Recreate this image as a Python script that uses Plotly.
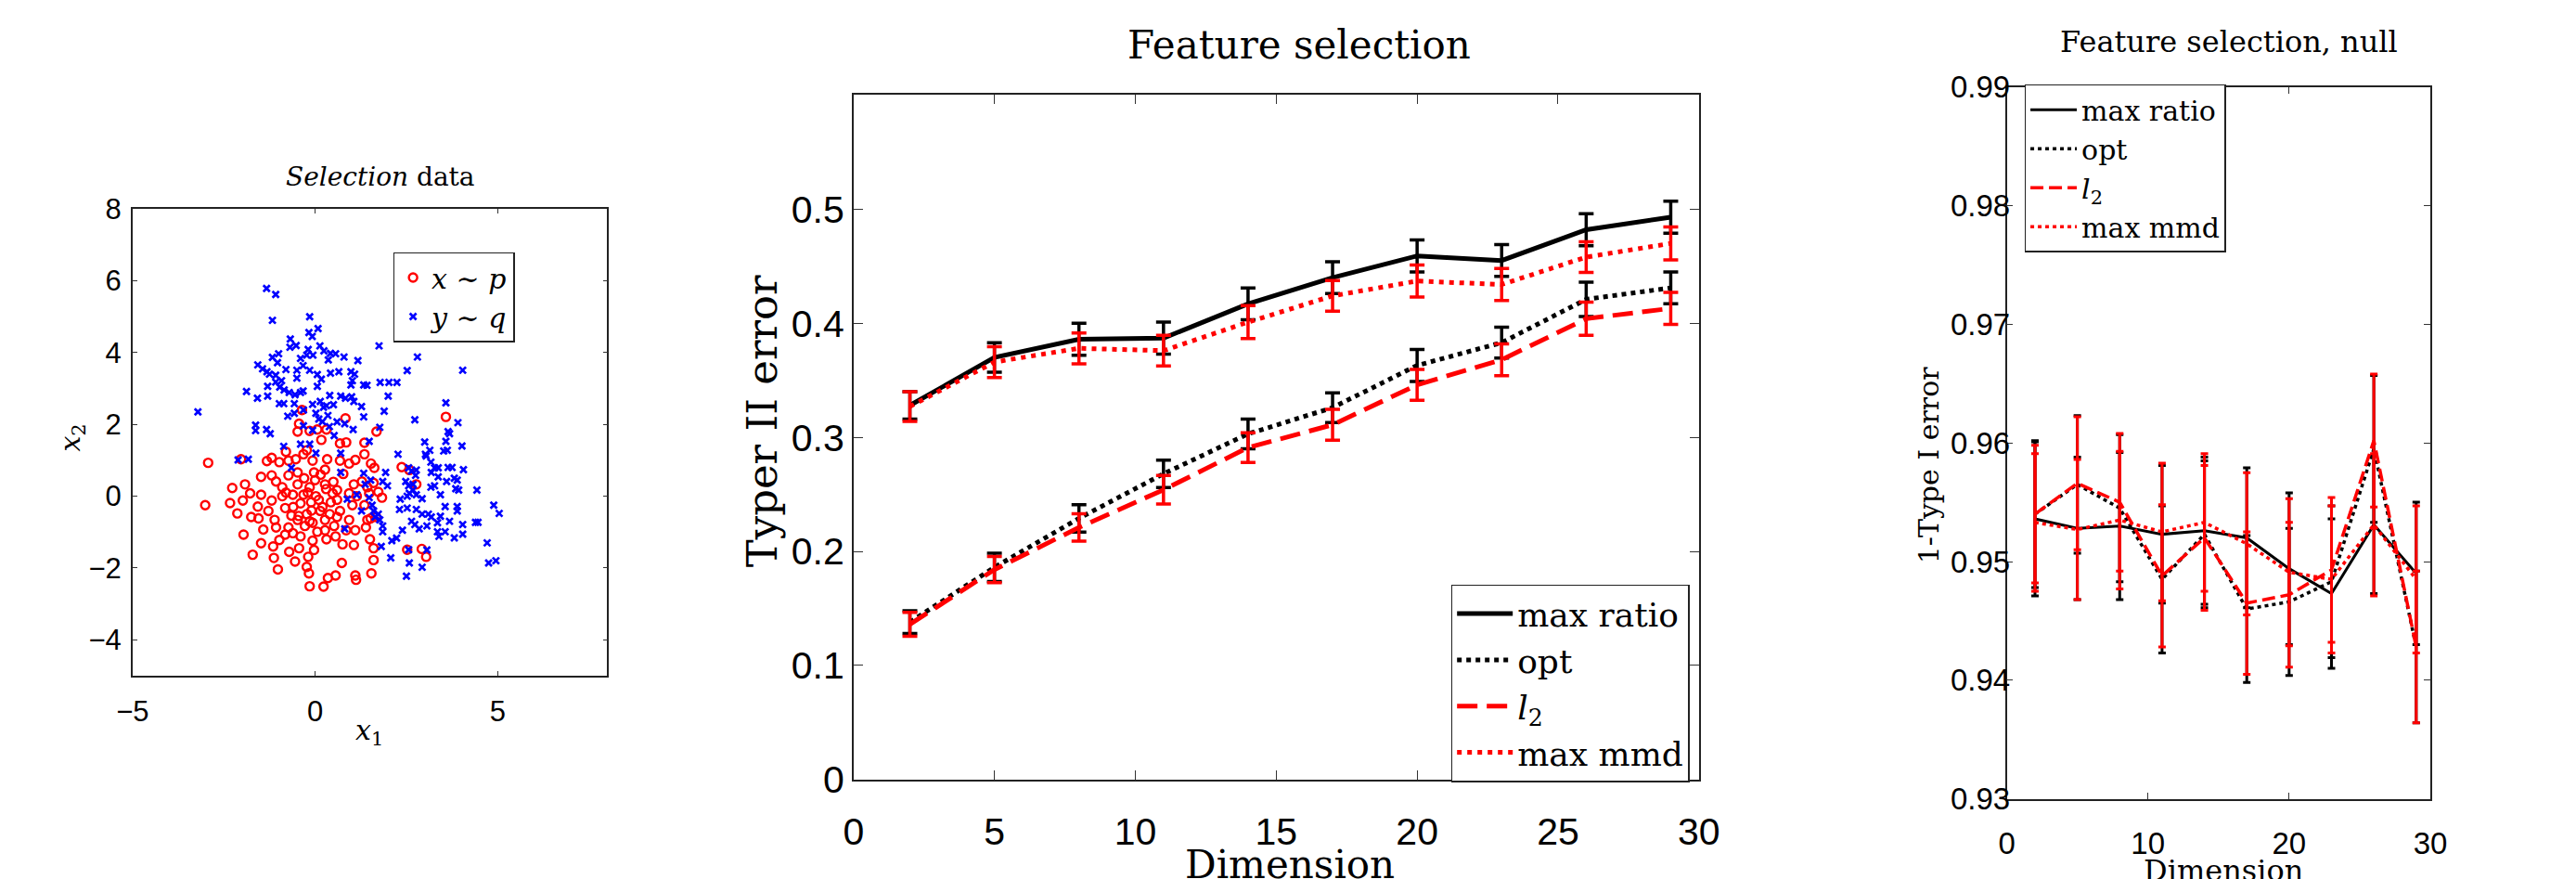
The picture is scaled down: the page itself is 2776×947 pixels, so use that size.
import plotly.graph_objects as go

W, H = 2776, 947

# ---------------- Panel 1 data: "Selection" data ----------------
p_points = [(-2.93,0.93),(-3.01,-0.25),(-2.03,1.03),(-0.36,2.40),(0.83,2.17),(3.58,2.21),(-0.44,2.02),(-0.48,1.80),
 (-0.15,1.82),(0.06,1.86),(0.31,1.86),(0.17,1.57),(1.68,1.80),(0.68,1.47),(0.85,1.50),(1.35,1.49),(-0.80,1.24),
 (1.35,1.17),(-0.32,1.17),(-0.23,1.28),(-1.32,0.98),(-1.19,1.07),(-0.98,0.95),(-0.73,0.99),(-0.53,1.03),(-0.07,0.99),
 (0.33,1.03),(0.68,0.99),(0.93,0.91),(1.10,1.01),(1.53,0.91),(1.62,0.79),(2.37,0.81),(2.58,0.73),(2.77,0.33),
 (-2.27,0.23),(-1.92,0.33),(-1.78,0.08),(-2.33,-0.19),(-1.98,-0.12),(-2.13,-0.48),(-1.48,0.54),(-1.48,0.04),
 (-1.57,-0.29),(-1.75,-0.58),(-1.55,-0.62),(-1.96,-1.07),(-1.42,-0.93),(-1.48,-1.31),(-1.71,-1.63),(-1.15,-1.40),
 (-1.13,-1.72),(-1.02,-2.04),(-0.71,-1.55),(-0.55,-1.82),(-0.19,-1.69),(-0.03,-1.50),(-0.23,-1.97),(-0.17,-2.15),
 (-0.15,-2.51),(0.23,-2.52),(0.35,-2.28),(0.56,-2.21),(0.73,-1.86),(1.10,-2.21),(1.12,-2.33),(1.54,-2.15),
 (1.60,-1.78),(1.60,-1.45),(1.50,-1.20),(1.06,-1.36),(0.75,-1.34),(0.31,-1.20),(0.56,-1.12),(0.06,-0.99),
 (-0.82,-1.07),(-0.61,-1.03),(-1.07,-0.87),(-0.48,-0.66),(-0.28,-0.83),(0.85,-0.95),(1.10,-0.95),(1.39,-0.87),
 (1.43,-0.66),(1.67,-0.58),(1.02,-0.25),(1.35,-0.25),(1.83,-0.04),(1.73,0.12),(1.43,0.25),(1.28,0.41),(1.60,0.37),
 (2.52,-1.49),(2.92,-1.47),(3.04,-1.69),(-1.19,-0.12),(-0.90,0.00),(-0.82,-0.33),(-1.28,-0.41),(-1.11,-0.66),
 (-0.65,-0.54),(-0.11,-0.17),(0.14,-0.41),(0.43,-0.17),(0.60,0.17),(0.27,0.33),(-0.15,0.25),(-0.48,0.33),
 (-0.73,0.58),(-1.07,0.41),(-0.48,0.66),(-0.03,0.66),(0.27,0.74),(0.77,0.62),(1.06,0.33),(0.93,0.08),(0.68,-0.41),
 (-0.07,-0.74),(0.27,-0.66),(-0.23,-0.50),(0.02,0.00),(-0.32,0.04),(-0.61,0.04),(-0.90,0.25),(-1.19,0.58),
 (0.48,0.08),(1.14,0.00),(1.48,0.08),(0.60,-0.58),(-0.73,-0.87),(-0.40,-1.12),(0.52,-0.83),(1.52,-0.62),
 (0.93,-0.66),(0.27,-0.95),(-0.07,-1.24),(-0.44,-1.45),(-0.98,-1.22),(-0.40,-0.20),(-0.20,0.10),(0.10,-0.10),
 (0.30,0.20),(-0.10,-0.40),(0.20,-0.30),(-0.60,-0.30),(0.00,0.45),(-0.30,0.50),(0.40,-0.50),(-0.80,0.10),
 (0.60,-0.10),(-0.15,-0.70),(0.15,0.60),(-0.45,-0.55),(0.50,0.40)]

q_points = [(-1.33,5.79),(-1.08,5.62),(-1.17,4.90),(-0.15,5.00),(-0.17,4.56),(0.08,4.67),(-0.08,4.45),(-0.68,4.38),
 (-0.69,4.15),(-0.52,4.20),(1.75,4.19),(0.13,4.19),(0.24,4.05),(0.42,3.98),(0.56,3.97),(-0.19,4.09),(-0.23,3.93),
 (-0.06,3.93),(-1.00,3.97),(-1.17,3.87),(-1.03,3.72),(-0.40,3.84),(0.79,3.88),(0.36,3.80),(1.17,3.78),(2.80,3.88),
 (-1.57,3.66),(-1.44,3.55),(-1.32,3.47),(-1.25,3.40),(-1.08,3.37),(-0.80,3.53),(-0.50,3.51),(-0.33,3.64),
 (-0.15,3.51),(0.06,3.39),(0.17,3.26),(0.42,3.43),(0.65,3.47),(0.98,3.47),(1.08,3.40),(1.02,3.22),(2.52,3.50),
 (4.04,3.51),(-0.50,3.29),(-0.92,3.22),(-1.08,3.18),(-0.97,3.04),(-0.85,2.96),(-1.30,3.06),(-1.88,2.92),
 (1.33,3.10),(1.42,3.09),(1.78,3.17),(2.02,3.17),(2.24,3.17),(0.06,3.06),(0.98,3.10),(-1.58,2.73),(-1.30,2.79),
 (-0.71,2.89),(-0.55,2.83),(-0.40,2.89),(-0.33,2.93),(0.40,2.81),(0.70,2.79),(0.83,2.73),(1.00,2.77),(1.06,2.64),
 (2.00,2.79),(-0.98,2.58),(-0.86,2.58),(-0.57,2.58),(-0.07,2.56),(0.14,2.64),(0.23,2.48),(0.31,2.52),(0.50,2.55),
 (1.27,2.50),(-3.21,2.35),(1.89,2.37),(3.58,2.60),(-0.75,2.23),(-0.57,2.31),(-0.32,2.40),(0.02,2.31),(0.10,2.15),
 (0.20,2.08),(0.35,2.25),(0.60,2.07),(0.81,2.02),(1.33,2.21),(2.73,2.13),(-1.63,1.98),(-1.63,1.83),(-1.33,1.86),
 (-1.23,1.74),(-0.32,1.96),(-0.07,1.84),(0.39,1.94),(0.52,1.69),(1.04,1.86),(1.77,1.92),(3.91,2.05),(3.64,1.80),
 (3.68,1.74),(3.58,1.53),(4.02,1.40),(3.62,1.28),(3.52,1.26),(-0.86,1.39),(-0.40,1.45),(-0.15,1.45),(0.02,1.20),
 (0.70,1.20),(1.48,1.53),(-2.11,1.01),(-1.83,1.03),(3.00,1.51),(3.02,1.17),(2.27,1.17),(3.14,1.28),(3.04,1.12),
 (2.56,0.79),(2.64,0.70),(2.77,0.73),(2.75,0.58),(3.17,0.95),(3.27,0.79),(3.37,0.79),(3.18,0.66),(3.64,0.80),
 (3.75,0.80),(4.06,0.74),(-0.65,0.79),(0.70,0.66),(1.33,0.64),(1.37,0.33),(1.52,0.45),(1.85,0.41),(1.98,0.29),
 (1.93,0.66),(2.48,0.41),(2.56,0.29),(2.68,0.33),(2.68,0.17),(2.58,0.08),(2.52,0.00),(2.77,0.04),(2.93,-0.07),
 (3.17,0.25),(3.27,0.29),(3.37,0.54),(3.43,0.04),(3.60,0.41),(3.81,0.50),(3.89,0.45),(3.85,0.21),(3.93,0.17),
 (4.43,0.17),(0.88,-0.08),(1.14,0.04),(1.48,-0.04),(1.56,-0.25),(1.60,-0.41),(1.64,-0.58),(1.73,-0.50),
 (1.77,-0.66),(1.27,-0.41),(2.33,-0.08),(2.31,-0.37),(2.52,-0.33),(2.77,-0.37),(2.93,-0.50),(3.10,-0.50),
 (3.18,-0.58),(3.43,-0.56),(3.56,-0.29),(3.89,-0.29),(3.89,-0.41),(4.89,-0.25),(5.04,-0.48),(0.81,-0.91),
 (1.85,-0.83),(1.85,-0.99),(1.81,-1.40),(2.10,-1.24),(2.23,-1.17),(2.39,-0.95),(2.64,-0.70),(2.73,-0.79),
 (2.85,-0.91),(3.06,-0.83),(3.35,-0.74),(3.35,-0.99),(3.39,-1.12),(3.56,-0.99),(3.68,-0.70),(3.81,-1.16),
 (4.04,-0.79),(4.04,-1.06),(4.39,-0.73),(4.46,-0.73),(4.71,-1.30),(4.75,-1.86),(4.95,-1.80),(2.07,-1.72),
 (2.56,-1.49),(2.58,-1.86),(2.50,-2.23),(2.93,-1.98),(3.06,-1.50)]

p_x = [p[0] for p in p_points]
p_y = [p[1] for p in p_points]
q_x = [p[0] for p in q_points]
q_y = [p[1] for p in q_points]

# ---------------- Panel 2 data: Feature selection ----------------
dims = [2, 5, 8, 11, 14, 17, 20, 23, 26, 29]
ratio2 = [0.328, 0.370, 0.386, 0.387, 0.417, 0.440, 0.459, 0.455, 0.482, 0.493]
ratio2_err = [0.012, 0.013, 0.014, 0.014, 0.014, 0.014, 0.014, 0.014, 0.014, 0.014]
opt2 = [0.138, 0.186, 0.229, 0.268, 0.303, 0.326, 0.363, 0.383, 0.421, 0.431]
opt2_err = [0.010, 0.0125, 0.012, 0.012, 0.013, 0.013, 0.014, 0.0135, 0.015, 0.014]
l2_2 = [0.136, 0.184, 0.221, 0.254, 0.291, 0.311, 0.346, 0.368, 0.404, 0.413]
l2_2_err = [0.0105, 0.0115, 0.012, 0.0125, 0.013, 0.0135, 0.0135, 0.014, 0.0145, 0.014]
mmd2 = [0.327, 0.366, 0.378, 0.376, 0.401, 0.424, 0.437, 0.434, 0.458, 0.470]
mmd2_err = [0.013, 0.0135, 0.0135, 0.0135, 0.0145, 0.0135, 0.014, 0.014, 0.0135, 0.0145]

# ---------------- Panel 3 data: Feature selection, null ----------------
ratio3 = [0.9536, 0.9528, 0.9530, 0.9523, 0.9526, 0.9520, 0.9494, 0.9473, 0.9531, 0.9490]
ratio3_err = [0.0065, 0.0060, 0.0062, 0.0058, 0.0062, 0.0059, 0.0064, 0.0063, 0.0058, 0.0060]
opt3 = [0.9540, 0.9565, 0.9545, 0.9485, 0.9523, 0.9460, 0.9466, 0.9483, 0.9595, 0.9428]
opt3_err = [0.0062, 0.0058, 0.0062, 0.0062, 0.0062, 0.0062, 0.0062, 0.0064, 0.0062, 0.0064]
l2_3 = [0.9540, 0.9566, 0.9550, 0.9488, 0.9520, 0.9465, 0.9472, 0.9493, 0.9602, 0.9428]
l2_3_err = [0.0058, 0.0056, 0.0058, 0.0060, 0.0061, 0.0060, 0.0061, 0.0061, 0.0056, 0.0064]
mmd3 = [0.9533, 0.9527, 0.9535, 0.9525, 0.9533, 0.9515, 0.9491, 0.9485, 0.9531, 0.9485]
mmd3_err = [0.0058, 0.0059, 0.0058, 0.0058, 0.0058, 0.0060, 0.0062, 0.0062, 0.0060, 0.0062]

series_names = ["max ratio", "opt", "<i>l</i><sub>2</sub>", "max mmd"]

SERIF = "DejaVu Serif"
SANS = "Liberation Sans"

fig = go.Figure()

# Panel 1
fig.add_trace(go.Scatter(x=p_x, y=p_y, mode="markers", name="<i>x</i> ∼ <i>p</i>",
                         marker=dict(symbol="circle-open", size=9, color="#ff0000", line=dict(width=2.4, color="#ff0000")),
                         xaxis="x", yaxis="y", legend="legend"))
fig.add_trace(go.Scatter(x=q_x, y=q_y, mode="markers", name="<i>y</i> ∼ <i>q</i>",
                         marker=dict(symbol="x-thin-open", size=7, color="#0000ff", line=dict(width=2.7, color="#0000ff")),
                         xaxis="x", yaxis="y", legend="legend"))


def add_series(x, y, err, name, color, dash, width, ewidth, ethick, xa, ya, lg):
    fig.add_trace(go.Scatter(x=x, y=y, mode="lines", name=name,
                             line=dict(color=color, dash=dash, width=width),
                             error_y=dict(type="data", array=err, visible=True, color=color,
                                          thickness=ethick, width=ewidth),
                             xaxis=xa, yaxis=ya, legend=lg))


# Panel 2
add_series(dims, ratio2, ratio2_err, series_names[0], "#000000", "solid", 5, 8, 3.5, "x2", "y2", "legend2")
add_series(dims, opt2, opt2_err, series_names[1], "#000000", "5px,5px", 5, 8, 3.5, "x2", "y2", "legend2")
add_series(dims, l2_2, l2_2_err, series_names[2], "#ff0000", "22px,10px", 5, 8, 3.5, "x2", "y2", "legend2")
add_series(dims, mmd2, mmd2_err, series_names[3], "#ff0000", "5px,6px", 5, 8, 3.5, "x2", "y2", "legend2")

# Panel 3
add_series(dims, ratio3, ratio3_err, series_names[0], "#000000", "solid", 3, 4, 3, "x3", "y3", "legend3")
add_series(dims, opt3, opt3_err, series_names[1], "#000000", "4px,4px", 3.5, 4, 3, "x3", "y3", "legend3")
add_series(dims, l2_3, l2_3_err, series_names[2], "#ff0000", "14px,6px", 3.5, 4, 3, "x3", "y3", "legend3")
add_series(dims, mmd3, mmd3_err, series_names[3], "#ff0000", "4px,4px", 3.5, 4, 3, "x3", "y3", "legend3")


def axis(x0, x1, rng, tickvals, fsize, ticklen, anchor, standoff, horizontal=True, fmt=None):
    if horizontal:
        dom = [x0 / W, x1 / W]
    else:
        dom = [1 - x1 / H, 1 - x0 / H]
    d = dict(domain=dom, range=rng, tickvals=tickvals, ticks="inside", ticklen=ticklen,
             tickwidth=1.2, tickcolor="#333333", showline=True, linecolor="#222222",
             linewidth=1.6, mirror="ticks", showgrid=False, zeroline=False,
             tickfont=dict(family=SANS, size=fsize, color="#000000"), anchor=anchor,
             ticklabelstandoff=standoff)
    if fmt:
        d["tickformat"] = fmt
    return d


layout = dict(
    width=W, height=H, margin=dict(l=0, r=0, t=0, b=0),
    paper_bgcolor="white", plot_bgcolor="white", showlegend=True,
    xaxis=axis(126.7, 646, [-5, 8], [-5, 0, 5], 31, 5, "y", 10),
    yaxis=axis(216.7, 742, [-5, 8], [-4, -2, 0, 2, 4, 6, 8], 31, 5, "x", 4, horizontal=False),
    xaxis2=axis(915.3, 1840, [0, 30], [0, 5, 10, 15, 20, 25, 30], 41, 10, "y2", 19),
    yaxis2=axis(88.3, 859, [0, 0.6], [0, 0.1, 0.2, 0.3, 0.4, 0.5], 41, 10, "x2", 0, horizontal=False),
    xaxis3=axis(2176.7, 2640, [0, 30], [0, 10, 20, 30], 33, 7, "y3", 18),
    yaxis3=axis(79.3, 880.7, [0.93, 0.99], [0.93, 0.94, 0.95, 0.96, 0.97, 0.98, 0.99], 33, 7, "x3", -12,
                horizontal=False, fmt=".2f"),
    legend=dict(x=411.7 / W, y=1 - 265 / H, xanchor="left", yanchor="top",
                bordercolor="#222222", borderwidth=1.5, bgcolor="white",
                font=dict(family=SERIF, size=30, color="#000000"), tracegroupgap=0,
                itemwidth=30),
    legend2=dict(x=1829.7 / W, y=1 - 862 / H, xanchor="right", yanchor="bottom",
                 bordercolor="#222222", borderwidth=1.5, bgcolor="white",
                 font=dict(family=SERIF, size=36, color="#000000"), tracegroupgap=0,
                 itemwidth=60),
    legend3=dict(x=2196 / W, y=1 - 76 / H, xanchor="left", yanchor="top",
                 bordercolor="#222222", borderwidth=1.5, bgcolor="white",
                 font=dict(family=SERIF, size=30, color="#000000"), tracegroupgap=0,
                 itemwidth=50),
)


def ann(text, xp, yp, size, angle=0, xanchor="center", yanchor="middle"):
    return dict(text=text, x=xp / W, y=1 - yp / H, xref="paper", yref="paper",
                showarrow=False, textangle=angle, xanchor=xanchor, yanchor=yanchor,
                font=dict(family=SERIF, size=size, color="#000000"))


layout["annotations"] = [
    ann("<i>Selection</i> data", 398, 180, 28),
    ann("<i>x</i><sub>1</sub>", 386, 805, 30),
    ann("<i>x</i><sub>2</sub>", 60, 474, 30, angle=-90),
    ann("Feature selection", 1403, 32, 42),
    ann("Typer II error", 815, 455, 45, angle=-90),
    ann("Dimension", 1393, 955, 42),
    ann("Feature selection, null", 2420, 28, 32),
    ann("1-Type I error", 2091, 505, 30, angle=-90),
    ann("Dimension", 2414, 962, 32),
]

fig.update_layout(**layout)
fig.write_html("out.html")
